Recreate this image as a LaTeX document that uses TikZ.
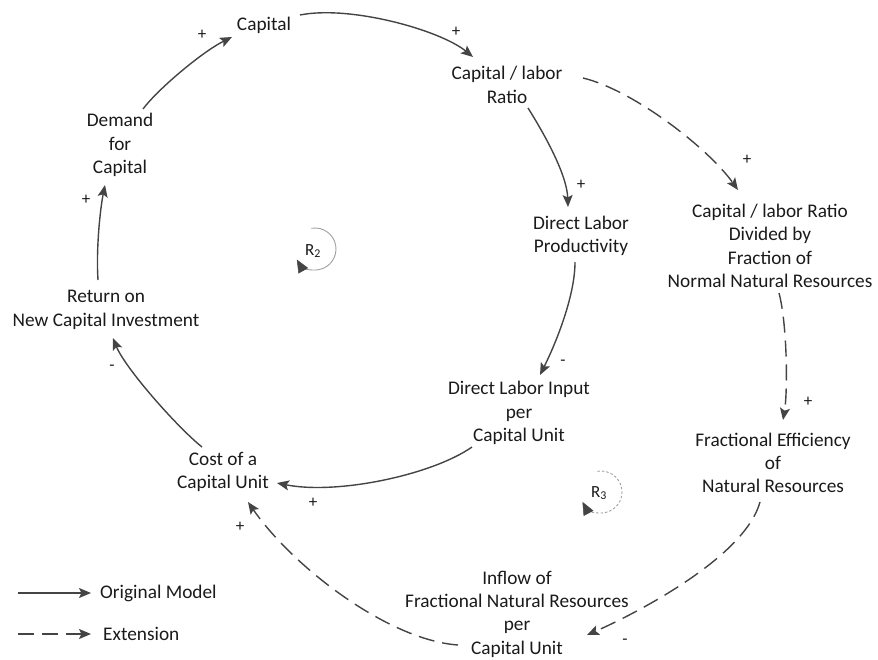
\documentclass[tikz,border=0pt]{standalone}
\usepackage{fontspec}
\setmainfont{Carlito}
\usetikzlibrary{arrows.meta,calc}
\definecolor{ln}{HTML}{444444}
\definecolor{tx}{HTML}{1A1A1A}
\definecolor{loopc}{HTML}{A0A0A0}
\begin{document}
\begin{tikzpicture}[x=1pt,y=-1pt,
  var/.style={align=center, font=\fontsize{19.3}{23.3}\selectfont, text=tx, inner sep=0pt},
  sgn/.style={font=\fontsize{17}{20}\selectfont, text=tx, inner sep=0pt},
  link/.style={draw=ln, line width=1.4pt, -{Stealth[length=12pt,width=10pt,inset=2.5pt]}},
  ext/.style={link, dash pattern=on 16pt off 8pt},
  loopmark/.style={draw=loopc, line width=0.9pt, -{Triangle[length=13pt,width=11pt,color=ln,fill=ln,line width=0.5pt]}},
]
\useasboundingbox (0,0) rectangle (878,659);

% variables
\node[var] (cap)  at (264,25)  {Capital};
\node[var] (clr)  at (507,85)  {Capital / labor\\Ratio};
\node[var] (dlp)  at (581,236) {Direct Labor\\Productivity};
\node[var] (div)  at (770,246) {Capital / labor Ratio\\Divided by\\Fraction of\\Normal Natural Resources};
\node[var] (fe)   at (773,463) {Fractional Efficiency\\of\\Natural Resources};
\node[var] (dli)  at (519,413) {Direct Labor Input\\per\\Capital Unit};
\node[var] (inf)  at (517,614) {Inflow of\\Fractional Natural Resources\\per\\Capital Unit};
\node[var] (cost) at (223,472) {Cost of a\\Capital Unit};
\node[var] (ret)  at (106,310) {Return on\\New Capital Investment};
\node[var] (dem)  at (120,145) {Demand\\for\\Capital};

% original model links
\draw[link] ([shift={(36,-10)}]cap.center) .. controls +(50,-10) and +(-33,-27) .. ([shift={(-34,-28)}]clr.center);
\draw[link] ([shift={(21,23)}]clr.center) .. controls +(17,27) and +(-1,-32) .. ([shift={(-13,-29)}]dlp.center);
\draw[link] ([shift={(-6,26)}]dlp.center) .. controls +(0,35) and +(15,-30) .. ([shift={(21,-38)}]dli.center);
\draw[link] ([shift={(-47,34)}]dli.center) .. controls +(-40,28) and +(60,12) .. ([shift={(54,11)}]cost.center);
\draw[link] ([shift={(-21,-25)}]cost.center) .. controls +(-25,-20) and +(12,30) .. ([shift={(7,28)}]ret.center);
\draw[link] ([shift={(-8,-30)}]ret.center) .. controls +(-2,-30) and +(-5,25) .. ([shift={(-15,40)}]dem.center);
\draw[link] ([shift={(23,-36)}]dem.center) .. controls +(15,-20) and +(-30,15) .. ([shift={(-32,12)}]cap.center);

% extension links
\draw[ext] ([shift={(76,-7)}]clr.center) .. controls +(50,12) and +(-30,-42) .. ([shift={(-32,-56)}]div.center);
\draw[ext] ([shift={(9,47)}]div.center) .. controls +(8,30) and +(5,-30) .. ([shift={(10,-43)}]fe.center);
\draw[ext] ([shift={(-13,39)}]fe.center) .. controls +(-15,55) and +(50,-22) .. ([shift={(70,21)}]inf.center);
\draw[ext] ([shift={(-59,31)}]inf.center) .. controls +(-70,-5) and +(45,65) .. ([shift={(25,30)}]cost.center);

% polarities
\node[sgn] (p1) at (456,32) {+};
\node[sgn] (p2) at (581,185) {+};
\node[sgn] (p3) at (747,160) {+};
\node[sgn] (p4) at (808,402) {+};
\node[sgn] (p5) at (313,503) {+};
\node[sgn] (p6) at (240,527) {+};
\node[sgn] (p7) at (86,200) {+};
\node[sgn] (p8) at (202,35) {+};
\node[sgn] (m1) at (563,363) {-};
\node[sgn] (m2) at (625,642) {-};
\node[sgn] (m3) at (112,368) {-};

% loop markers
\node[var, font=\fontsize{17}{20}\selectfont] (r2) at (313,251) {R\textsubscript{2}};
\draw[loopmark] ([shift={(2,-2)}]r2.center) ++(-100:21) arc[start angle=-100, end angle=150, radius=21];
\node[var, font=\fontsize{17}{20}\selectfont] (r3) at (599,493) {R\textsubscript{3}};
\draw[loopmark, dash pattern=on 2.5pt off 2pt] ([shift={(2,-1)}]r3.center) ++(-100:21) arc[start angle=-100, end angle=152, radius=21];

% legend
\coordinate (lg1) at (18,593);
\node[var, anchor=west] (orig) at (100,593) {Original Model};
\draw[link, line width=1.2pt] (lg1) -- ([xshift=-9pt]orig.west);
\coordinate (lg2) at (18,634);
\node[var, anchor=west] (extl) at (103,634) {Extension};
\draw[ext, line width=1.2pt] (lg2) -- ([xshift=-12pt]extl.west);
\end{tikzpicture}
\end{document}
